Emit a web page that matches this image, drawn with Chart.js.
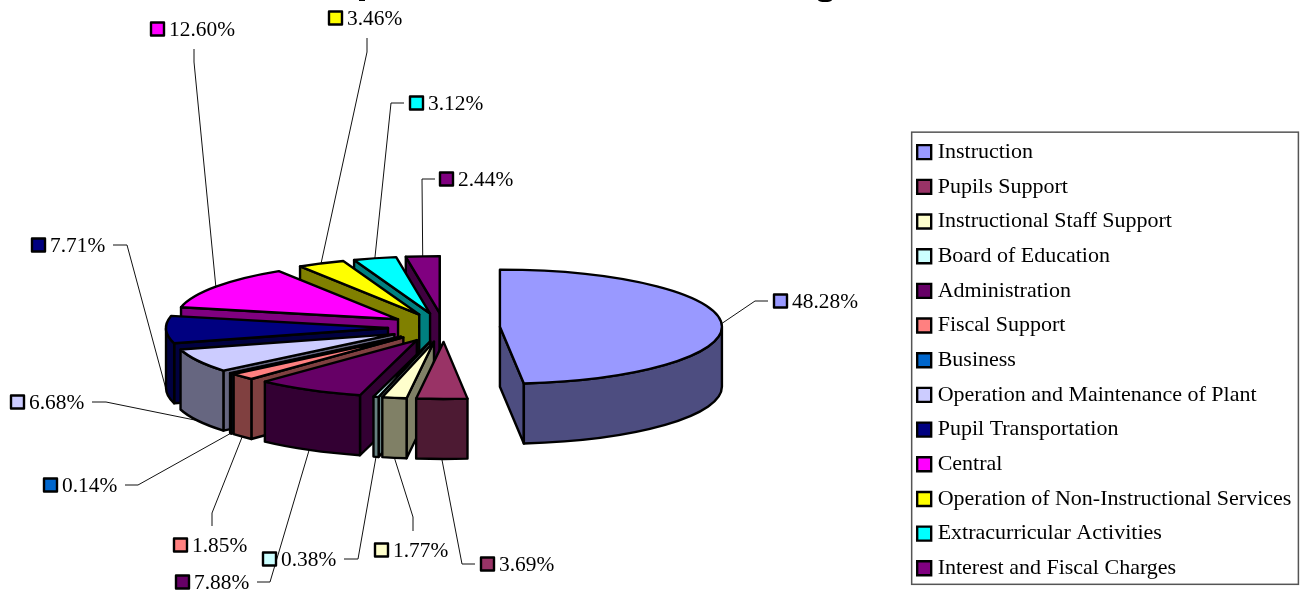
<!DOCTYPE html>
<html>
<head>
<meta charset="utf-8">
<style>
  html, body { margin: 0; padding: 0; background: #fff; }
  canvas { display: block; }
</style>
<script src="https://cdn.jsdelivr.net/npm/chart.js@4/dist/chart.umd.min.js"></script>
</head>
<body>
<canvas id="pie" width="1310" height="591"></canvas>
<script>
let categories = [
  "Instruction",
  "Pupils Support",
  "Instructional Staff Support",
  "Board of Education",
  "Administration",
  "Fiscal Support",
  "Business",
  "Operation and Maintenance of Plant",
  "Pupil Transportation",
  "Central",
  "Operation of Non-Instructional Services",
  "Extracurricular Activities",
  "Interest and Fiscal Charges",
];

let percents = [48.28, 3.69, 1.77, 0.38, 7.88, 1.85, 0.14, 6.68, 7.71, 12.6, 3.46, 3.12, 2.44];

let colors = [
  "#9999FF",
  "#993366",
  "#FFFFCC",
  "#CCFFFF",
  "#660066",
  "#FF8080",
  "#0066CC",
  "#CCCCFF",
  "#000080",
  "#FF00FF",
  "#FFFF00",
  "#00FFFF",
  "#800080",
];

// where each percent label sits: swatch left, swatch middle, then the leader's bend points
let labelSpots = [
  { x: 773, y: 301, bend: [[768, 301], [755, 301]] },
  { x: 480, y: 564, bend: [[475, 564], [462, 564]] },
  { x: 374, y: 550, bend: [[413, 531], [413, 517]] },
  { x: 262, y: 559, bend: [[344, 559], [358, 559]] },
  { x: 175, y: 582, bend: [[257, 582], [270, 582]] },
  { x: 173, y: 545, bend: [[212, 526], [212, 513]] },
  { x: 43, y: 485, bend: [[125, 485], [138, 485]] },
  { x: 10, y: 402, bend: [[92, 402], [106, 402]] },
  { x: 31, y: 245, bend: [[113, 245], [127, 245]] },
  { x: 150, y: 29, bend: [[194, 49], [194, 62]] },
  { x: 328, y: 18, bend: [[367, 38], [367, 52]] },
  { x: 409, y: 103, bend: [[404, 103], [391, 103]] },
  { x: 439, y: 179, bend: [[435, 179], [422, 179]] },
];

const squash = 0.257; // how flat the pie is drawn
const depth = 60; // height of the slices
const explode = 56; // how far slices are pulled out
const shiftX = -10.5; // layout can't push the pie further left than this
const serif = "'Liberation Serif', 'Times New Roman', serif";

function darken(hex) {
  let n = parseInt(hex.slice(1), 16);
  let r = Math.round(((n >> 16) & 255) / 2);
  let g = Math.round(((n >> 8) & 255) / 2);
  let b = Math.round((n & 255) / 2);
  return `rgb(${r}, ${g}, ${b})`;
}

// slice geometry comes from the arc element that Chart.js laid out
function sliceShape(arc) {
  let mid = (arc.startAngle + arc.endAngle) / 2;
  return {
    cx: arc.x + shiftX + Math.cos(mid) * explode,
    cy: arc.y + Math.sin(mid) * explode * squash,
    rx: arc.outerRadius,
    ry: arc.outerRadius * squash,
    start: arc.startAngle,
    end: arc.endAngle,
    mid: mid,
  };
}

function rimPoint(s, angle) {
  return [s.cx + s.rx * Math.cos(angle), s.cy + s.ry * Math.sin(angle)];
}

function drawRadialWall(ctx, s, angle) {
  let p = rimPoint(s, angle);
  ctx.beginPath();
  ctx.moveTo(s.cx, s.cy);
  ctx.lineTo(p[0], p[1]);
  ctx.lineTo(p[0], p[1] + depth);
  ctx.lineTo(s.cx, s.cy + depth);
  ctx.closePath();
  ctx.fill();
  ctx.stroke();
}

function drawSlice(ctx, s, color) {
  ctx.fillStyle = darken(color);

  // cut faces that look towards the viewer
  if (Math.cos(s.start) < 0) drawRadialWall(ctx, s, s.start);
  if (Math.cos(s.end) > 0) drawRadialWall(ctx, s, s.end);

  // outer wall, only the front half of the rim
  let from = Math.max(s.start, 0);
  let to = Math.min(s.end, Math.PI);
  if (to > from) {
    ctx.beginPath();
    ctx.ellipse(s.cx, s.cy, s.rx, s.ry, 0, from, to);
    ctx.ellipse(s.cx, s.cy + depth, s.rx, s.ry, 0, to, from, true);
    ctx.closePath();
    ctx.fill();
    ctx.stroke();
  }

  ctx.fillStyle = color;
  ctx.beginPath();
  ctx.moveTo(s.cx, s.cy);
  ctx.ellipse(s.cx, s.cy, s.rx, s.ry, 0, s.start, s.end);
  ctx.closePath();
  ctx.fill();
  ctx.stroke();
}

function drawLeader(ctx, s, spot) {
  let end = rimPoint(s, s.mid);
  if (Math.sin(s.mid) > 0) end[1] += depth;
  ctx.beginPath();
  ctx.moveTo(spot.bend[0][0], spot.bend[0][1]);
  ctx.lineTo(spot.bend[1][0], spot.bend[1][1]);
  ctx.lineTo(end[0], end[1]);
  ctx.stroke();
}

function drawLabel(ctx, spot, color, value) {
  ctx.fillStyle = color;
  ctx.strokeStyle = "#000";
  ctx.lineWidth = 2.4;
  ctx.fillRect(spot.x + 1, spot.y - 6.5, 13, 13);
  ctx.strokeRect(spot.x + 1, spot.y - 6.5, 13, 13);
  ctx.fillStyle = "#000";
  ctx.font = `21.4px ${serif}`;
  ctx.textAlign = "left";
  ctx.textBaseline = "middle";
  ctx.fillText(value.toFixed(2) + "%", spot.x + 19, spot.y + 1);
}

let pie3d = {
  id: "pie3d",
  // the flat arcs are replaced by the squashed, pulled apart slices
  beforeDatasetDraw: function (chart, args) {
    let ctx = chart.ctx;
    let arcs = args.meta.data;
    let shapes = arcs.map(sliceShape);

    ctx.save();
    ctx.strokeStyle = "#111";
    ctx.lineWidth = 1;
    shapes.forEach((s, i) => drawLeader(ctx, s, labelSpots[i]));

    // paint from the back of the pie to the front
    let order = shapes.map((s, i) => i);
    order.sort((a, b) => shapes[a].cy - shapes[b].cy);
    ctx.strokeStyle = "#000";
    ctx.lineWidth = 2.4;
    ctx.lineJoin = "round";
    order.forEach((i) => drawSlice(ctx, shapes[i], colors[i]));

    shapes.forEach((s, i) => drawLabel(ctx, labelSpots[i], colors[i], percents[i]));
    ctx.restore();
    return false;
  },
  // frame round the legend
  afterDraw: function (chart) {
    let ctx = chart.ctx;
    let boxes = chart.legend.legendHitBoxes;
    let first = boxes[0];
    let last = boxes[boxes.length - 1];
    let widest = Math.max(...boxes.map((b) => b.width));
    ctx.save();
    ctx.strokeStyle = "#555";
    ctx.lineWidth = 1.5;
    ctx.strokeRect(
      first.left - 10,
      first.top - 9,
      widest + 17,
      last.top + last.height - first.top + 14
    );

    // the only bits of the cut off title that still show at the top edge
    ctx.fillStyle = "#000";
    ctx.fillRect(359, 0, 6, 1);
    ctx.beginPath();
    ctx.ellipse(825, 0, 7, 2, 0, 0, Math.PI);
    ctx.fill();
    ctx.restore();
  },
};

new Chart(document.querySelector("#pie"), {
  type: "pie",
  data: {
    labels: categories,
    datasets: [
      {
        data: percents,
        backgroundColor: colors,
        borderColor: "#000",
        borderWidth: 2.4,
        radius: 222,
      },
    ],
  },
  options: {
    responsive: false,
    animation: false,
    layout: {
      padding: { left: 0, top: 64, right: 8.6, bottom: -1 },
    },
    plugins: {
      legend: {
        position: "right",
        align: "end",
        labels: {
          usePointStyle: true,
          pointStyle: "rect",
          boxWidth: 5,
          boxHeight: 14,
          padding: 12.68,
          color: "#000",
          font: { family: serif, size: 22 },
        },
      },
      tooltip: { enabled: false },
    },
  },
  plugins: [pie3d],
});
</script>
</body>
</html>
